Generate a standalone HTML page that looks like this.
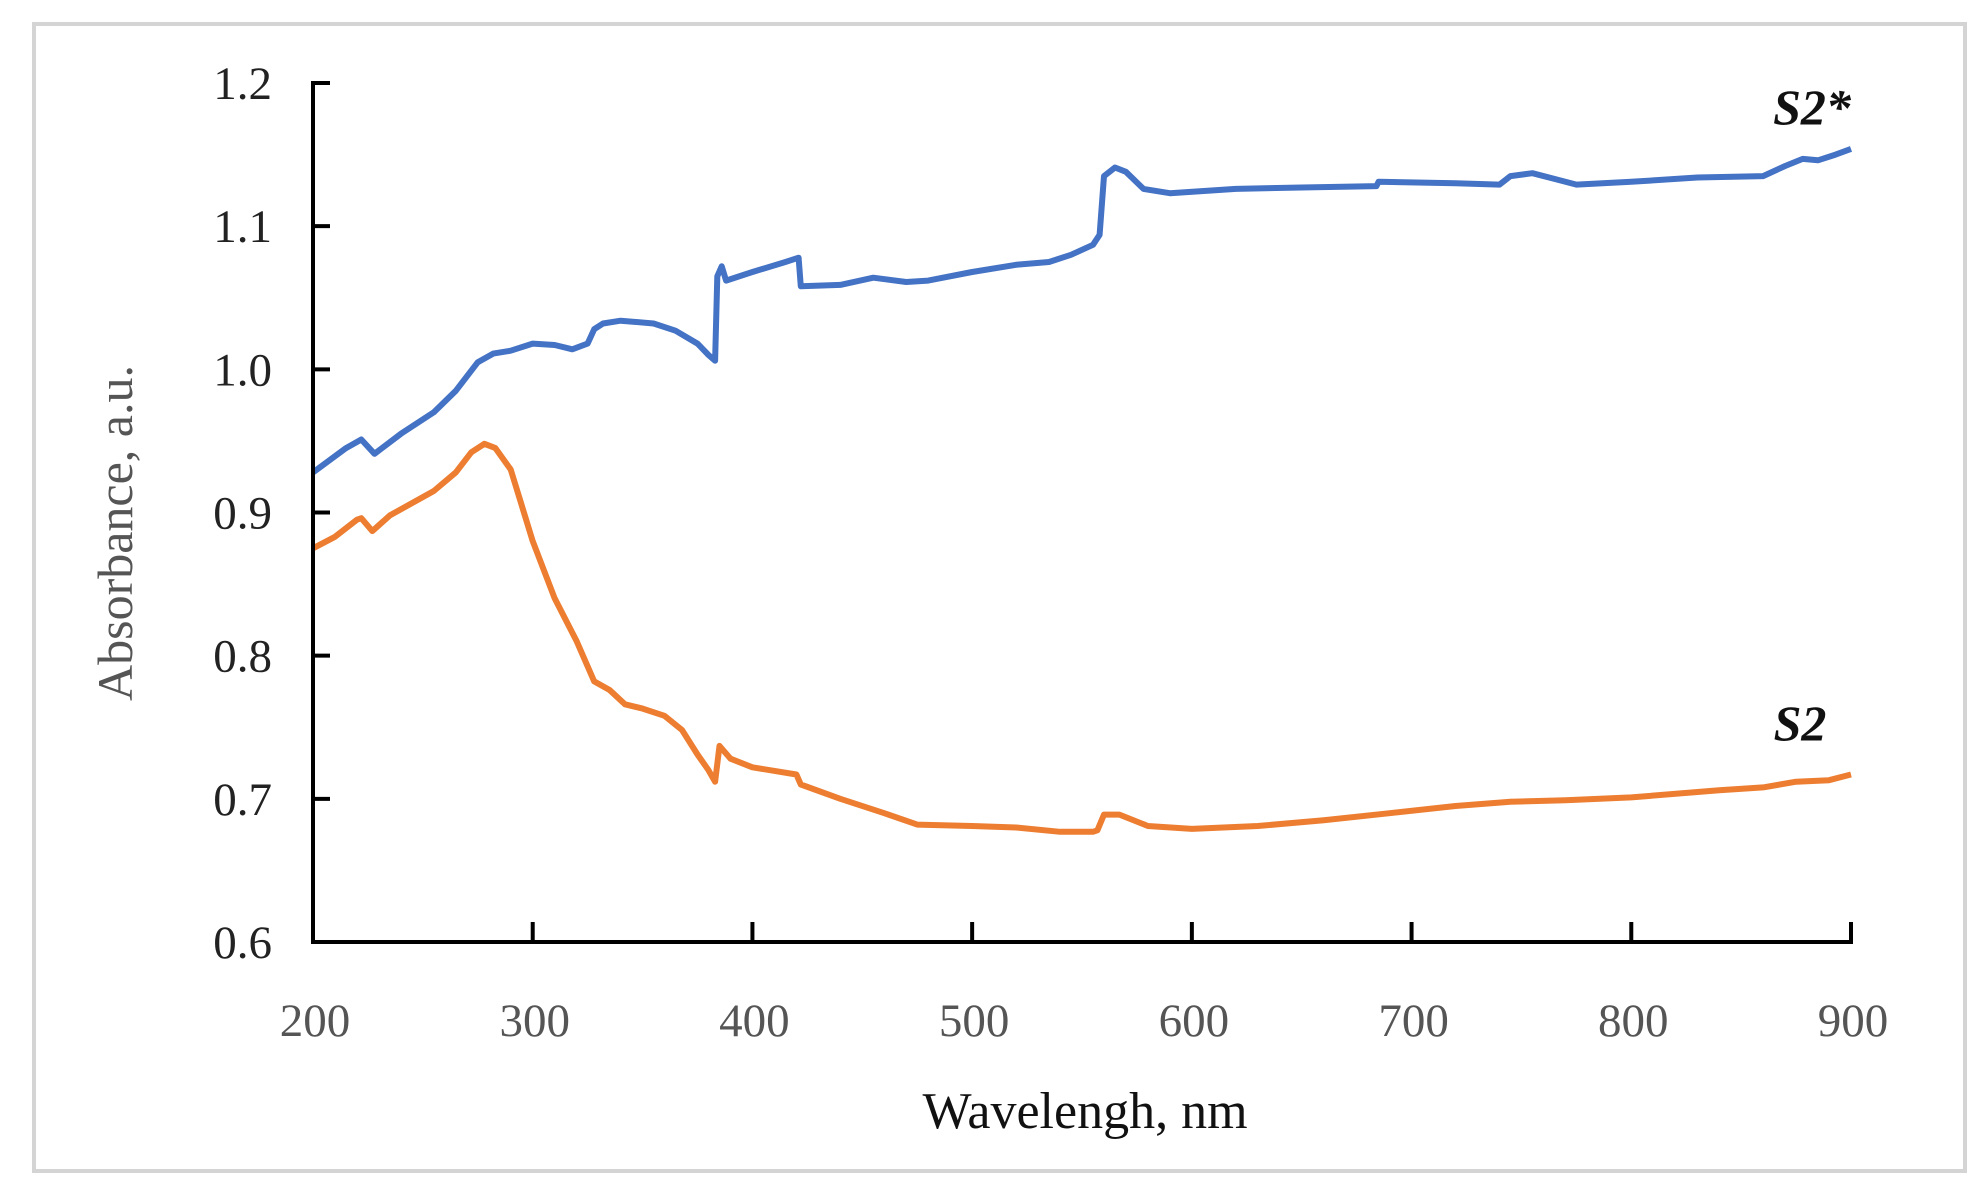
<!DOCTYPE html>
<html><head><meta charset="utf-8"><style>
body{margin:0;background:#fff}
svg{display:block}
</style></head><body>
<svg width="1986" height="1196" viewBox="0 0 1986 1196" xmlns="http://www.w3.org/2000/svg">
<rect x="34" y="24" width="1931" height="1147" fill="#fff" stroke="#d4d4d4" stroke-width="4"/>
<g id="plot"></g>
</svg>
<script>
const xTicks=[200,300,400,500,600,700,800,900];
const yTicks=[0.6,0.7,0.8,0.9,1.0,1.1,1.2];
const yTickLabels=["0.6","0.7","0.8","0.9","1.0","1.1","1.2"];
const s2starX=[200,215,222,228,240,255,265,275,282,290,300,310,318,325,328,332,340,355,365,375,380,383,384,386,388,400,415,421,422,440,455,470,480,500,520,535,545,555,558,560,565,570,578,590,620,650,684,685,720,740,745,755,765,775,800,830,860,870,878,885,893,900];
const s2starY=[0.928,0.945,0.951,0.941,0.955,0.970,0.985,1.005,1.011,1.013,1.018,1.017,1.014,1.018,1.028,1.032,1.034,1.032,1.027,1.018,1.010,1.006,1.065,1.072,1.062,1.068,1.075,1.078,1.058,1.059,1.064,1.061,1.062,1.068,1.073,1.075,1.080,1.087,1.094,1.135,1.141,1.138,1.126,1.123,1.126,1.127,1.128,1.131,1.130,1.129,1.135,1.137,1.133,1.129,1.131,1.134,1.135,1.142,1.147,1.146,1.150,1.154];
const s2X=[200,210,220,222,227,235,255,265,272,278,283,290,295,300,310,320,328,335,342,350,360,368,375,380,383,385,390,400,420,422,440,460,475,500,520,540,555,557,560,567,580,600,630,660,690,720,745,770,800,840,860,875,890,900];
const s2Y=[0.875,0.883,0.895,0.896,0.887,0.898,0.915,0.928,0.942,0.948,0.945,0.930,0.905,0.880,0.840,0.810,0.782,0.776,0.766,0.763,0.758,0.748,0.731,0.720,0.712,0.737,0.728,0.722,0.717,0.710,0.700,0.690,0.682,0.681,0.680,0.677,0.677,0.678,0.689,0.689,0.681,0.679,0.681,0.685,0.690,0.695,0.698,0.699,0.701,0.706,0.708,0.712,0.713,0.717];

const NS="http://www.w3.org/2000/svg";
const X0=313,X1=1851,Y0=942,Y1=83;
const sx=v=>X0+(v-200)/700*(X1-X0);
const sy=v=>Y0-(v-0.6)/0.6*(Y0-Y1);
const g=document.getElementById('plot');
function mk(tag,attrs){const e=document.createElementNS(NS,tag);for(const k in attrs)e.setAttribute(k,attrs[k]);g.appendChild(e);return e;}
const FONT='"Liberation Serif", serif';

function line(xs,ys,color,name){
  let d='';xs.forEach((x,i)=>{d+=(i?'L':'M')+sx(x).toFixed(1)+' '+sy(ys[i]).toFixed(1);});
  const p=mk('path',{d:d,fill:'none',stroke:color,'stroke-width':6,'stroke-linejoin':'round'});
  
  
}
line(s2starX,s2starY,'#4472c4','series-s2-star');
line(s2X,s2Y,'#ed7d31','series-s2');

const ya=mk('line',{x1:X0,y1:Y1-2,x2:X0,y2:Y0+2,stroke:'#000','stroke-width':4});


const xa=mk('line',{x1:X0-2,y1:Y0,x2:X1+2,y2:Y0,stroke:'#000','stroke-width':4});



yTicks.forEach((v,i)=>{
  const t=mk('line',{x1:X0,y1:sy(v),x2:X0+17,y2:sy(v),stroke:'#000','stroke-width':4});
  
  
  const l=mk('text',{x:272,y:sy(v)+16,'text-anchor':'end','font-family':FONT,'font-size':47,fill:'#222'});
  l.textContent=yTickLabels[i];
  
  
});
xTicks.forEach(v=>{
  const t=mk('line',{x1:sx(v),y1:Y0,x2:sx(v),y2:Y0-20,stroke:'#000','stroke-width':4});
  
  
  const l=mk('text',{x:sx(v)+2,y:1036,'text-anchor':'middle','font-family':FONT,'font-size':47,fill:'#555'});
  l.textContent=String(v);
  
  
});
const xt=mk('text',{x:1085,y:1128,'text-anchor':'middle','font-family':FONT,'font-size':52,fill:'#111'});
xt.textContent='Wavelengh, nm';


const yt=mk('text',{x:0,y:0,'text-anchor':'middle','font-family':FONT,'font-size':50,fill:'#555',transform:'translate(132,533) rotate(-90)'});
yt.textContent='Absorbance, a.u.';


const l1=mk('text',{x:1812,y:124,'text-anchor':'middle','font-family':FONT,'font-size':50,'font-weight':'bold','font-style':'italic',fill:'#111'});
l1.textContent='S2*';


const l2=mk('text',{x:1800,y:740,'text-anchor':'middle','font-family':FONT,'font-size':50,'font-weight':'bold','font-style':'italic',fill:'#111'});
l2.textContent='S2';


</script>
</body></html>
